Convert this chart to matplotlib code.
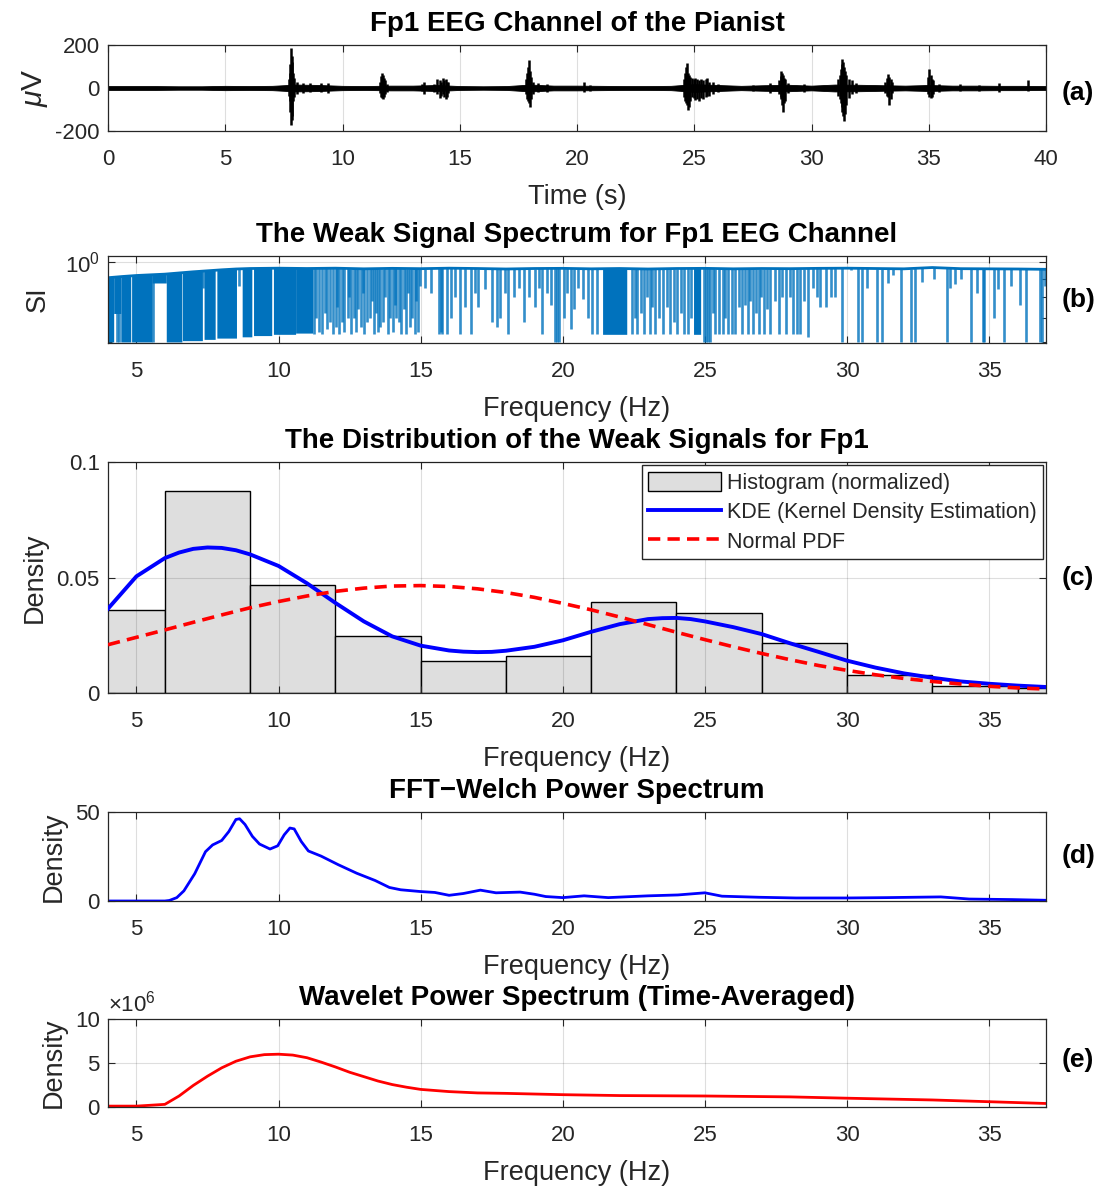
import numpy as np
import matplotlib
matplotlib.use("Agg")
import matplotlib.pyplot as plt
from matplotlib.ticker import FixedLocator, NullFormatter, LogFormatterSciNotation
from matplotlib.patches import Patch
from matplotlib.lines import Line2D

plt.rcParams['font.family'] = ['Liberation Sans', 'DejaVu Sans']
plt.rcParams['mathtext.fontset'] = 'custom'
plt.rcParams['mathtext.rm'] = 'Liberation Sans'
plt.rcParams['mathtext.it'] = 'Liberation Sans:italic'
plt.rcParams['axes.unicode_minus'] = False

# ---------------- (a) EEG trace: background noise envelope + burst spikes ----------------
eeg_bg_t = list(range(0, 41))
eeg_bg_amp = [9, 9, 9, 8, 8, 10, 9, 10, 16, 14, 10, 9, 11, 11, 14, 9, 8, 9, 16, 11,
              11, 10, 9, 9, 10, 18, 14, 10, 13, 15, 11, 16, 15, 13, 11, 14, 11, 11, 10, 10, 9]
spike_t = [7.70, 7.74, 7.77, 7.80, 7.83, 7.86, 7.90, 7.95, 8.05, 8.30, 8.60, 9.10, 9.40,
           11.60, 11.64, 11.68, 11.72, 11.76, 11.80, 11.90,
           13.40, 13.48, 13.90,
           14.05, 14.15, 14.22, 14.28, 14.34, 14.40, 14.46, 14.52,
           17.82, 17.88, 17.92, 17.96, 18.00, 18.05, 18.12, 18.35, 18.70,
           20.28, 20.55,
           24.55, 24.60, 24.64, 24.68, 24.72, 24.76, 24.82, 24.90, 25.00, 25.05, 25.12, 25.20, 25.30,
           25.38, 25.48, 25.55, 25.65, 25.80, 26.00,
           27.50, 28.25,
           28.62, 28.68, 28.72, 28.76, 28.80, 28.84, 28.88, 29.00, 29.70,
           31.15, 31.20, 31.25, 31.29, 31.32, 31.36, 31.40, 31.44, 31.48, 31.58, 31.72, 31.90,
           33.15, 33.22, 33.27, 33.32, 33.38, 33.45,
           34.95, 35.02, 35.08, 35.13, 35.18, 35.45,
           36.35, 37.15, 38.00, 39.25]
spike_up = [40, 70, 110, 185, 150, 120, 70, 45, 30, 25, 25, 22, 22,
            30, 55, 72, 60, 45, 35, 20,
            20, 30, 20,
            40, 35, 30, 46, 35, 40, 30, 30,
            40, 70, 100, 130, 80, 50, 30, 25, 18,
            30, 15,
            40, 70, 100, 115, 70, 60, 50, 45, 40, 45, 40, 35, 40,
            35, 40, 45, 30, 30, 20,
            14, 25,
            35, 55, 80, 70, 60, 45, 40, 25, 20,
            40, 60, 90, 110, 135, 120, 100, 80, 60, 40, 35, 25,
            30, 45, 65, 50, 40, 30,
            50, 90, 60, 40, 35, 20,
            20, 15, 22, 35]
spike_dn = [-35, -60, -110, -170, -150, -130, -60, -40, -30, -22, -20, -20, -22,
            -25, -40, -45, -50, -40, -30, -18,
            -15, -28, -20,
            -30, -45, -35, -30, -40, -50, -40, -25,
            -30, -50, -60, -70, -88, -50, -30, -20, -18,
            -20, -15,
            -40, -60, -70, -80, -100, -90, -60, -40, -45, -55, -50, -60, -45,
            -50, -40, -35, -35, -30, -20,
            -14, -22,
            -30, -40, -50, -80, -110, -70, -60, -25, -18,
            -35, -50, -70, -90, -110, -130, -155, -120, -80, -45, -30, -22,
            -25, -35, -40, -80, -50, -25,
            -30, -40, -45, -40, -30, -20,
            -15, -15, -18, -15]

# ---------------- (b) weak signal spectrum ----------------
si_top_f = [4, 4.5, 5, 5.5, 6, 6.5, 7, 7.5, 8, 8.5, 9, 10, 11, 12, 13, 14, 15, 16, 17, 18, 19, 20,
            21, 22, 23, 24, 25, 26, 27, 28, 29, 30, 31, 32, 33, 34, 35, 36, 37]
si_top_v = [0.905, 0.912, 0.918, 0.922, 0.926, 0.933, 0.94, 0.946, 0.952, 0.957, 0.96, 0.962, 0.96,
            0.962, 0.958, 0.961, 0.959, 0.962, 0.96, 0.957, 0.96, 0.961, 0.958, 0.96, 0.957, 0.96,
            0.961, 0.958, 0.96, 0.959, 0.961, 0.962, 0.96, 0.958, 0.966, 0.959, 0.958, 0.957, 0.955]
si_dense_f0 = [4.00, 4.20, 4.45, 4.83, 5.55, 6.05, 6.62, 7.38, 7.83, 8.72, 9.12, 9.82, 10.60, 21.40, 24.60]
si_dense_f1 = [4.20, 4.45, 4.80, 5.55, 6.05, 6.60, 7.32, 7.77, 8.52, 9.06, 9.76, 10.60, 11.20, 22.25, 24.85]
si_dense_lo = [0.60, 0.72, 0.60, 0.60, 0.875, 0.60, 0.605, 0.61, 0.615, 0.62, 0.625, 0.63, 0.635, 0.63, 0.63]
si_dip_f = [4.30, 4.38, 5.58, 7.35, 8.60,
            11.25, 11.33, 11.43, 11.54, 11.63, 11.72, 11.81, 11.90, 12.02, 12.07, 12.13, 12.22, 12.31,
            12.43, 12.49, 12.55, 12.64, 12.72, 12.81, 12.90, 12.96, 13.02, 13.11, 13.20, 13.28, 13.37,
            13.43, 13.49, 13.58, 13.67, 13.76, 13.84, 13.93, 14.02, 14.08, 14.14, 14.23, 14.32, 14.40,
            14.49, 14.55, 14.61, 14.70, 14.79, 14.85, 14.91, 14.97,
            15.14, 15.35, 15.64, 15.70, 15.75, 15.91, 16.08, 16.22, 16.38, 16.56, 16.77, 16.90, 17.03,
            17.25, 17.50, 17.68, 17.80, 17.95, 18.09, 18.27, 18.45, 18.62, 18.80, 19.03, 19.15, 19.27,
            19.45, 19.60, 19.74, 19.80, 19.86,
            20.04, 20.15, 20.30, 20.38, 20.55, 20.70, 20.90, 21.02, 21.21,
            22.43, 22.55, 22.62, 22.75, 22.87, 22.97, 23.06, 23.15, 23.26, 23.40, 23.51, 23.65, 23.77,
            23.90, 24.02, 24.15, 24.28, 24.40, 24.50,
            24.98, 25.05, 25.12, 25.17, 25.27, 25.36, 25.49, 25.62, 25.72, 25.81, 25.94, 26.06, 26.20,
            26.32, 26.42, 26.51, 26.60, 26.70, 26.80, 26.89, 26.99, 27.09, 27.18, 27.28, 27.45, 27.60,
            27.72, 27.85, 28.00, 28.11, 28.23, 28.36, 28.50, 28.62, 28.80, 28.95, 29.06, 29.26, 29.45,
            29.57, 29.83,
            30.15, 30.40, 30.53, 30.72, 31.04, 31.23, 31.43, 31.60, 31.90,
            32.25, 32.40, 32.65, 33.06, 33.50, 33.64, 33.80, 34.00, 34.35, 34.56, 34.78, 34.83, 35.18,
            35.30, 35.53, 35.76, 36.10, 36.30, 36.80, 36.87, 36.95]
si_dip_lo = [0.60, 0.60, 0.60, 0.85, 0.86,
             0.63, 0.70, 0.64, 0.63, 0.72, 0.65, 0.68, 0.63, 0.66, 0.75, 0.63, 0.68, 0.64,
             0.70, 0.80, 0.63, 0.70, 0.64, 0.74, 0.66, 0.82, 0.63, 0.68, 0.70, 0.78, 0.63,
             0.72, 0.64, 0.66, 0.68, 0.80, 0.63, 0.70, 0.64, 0.76, 0.70, 0.68, 0.63, 0.74,
             0.63, 0.82, 0.66, 0.70, 0.63, 0.78, 0.64, 0.86,
             0.845, 0.82, 0.63, 0.64, 0.63, 0.63, 0.70, 0.80, 0.63, 0.75, 0.63, 0.82, 0.75,
             0.84, 0.68, 0.66, 0.70, 0.82, 0.63, 0.80, 0.85, 0.68, 0.80, 0.75, 0.85, 0.63,
             0.82, 0.76, 0.60, 0.60, 0.60,
             0.70, 0.82, 0.65, 0.74, 0.85, 0.79, 0.70, 0.63, 0.63,
             0.63, 0.70, 0.63, 0.72, 0.63, 0.80, 0.63, 0.75, 0.63, 0.70, 0.63, 0.75, 0.63,
             0.68, 0.63, 0.72, 0.63, 0.63, 0.70,
             0.60, 0.60, 0.60, 0.60, 0.72, 0.63, 0.63, 0.63, 0.70, 0.63, 0.63, 0.63, 0.75,
             0.63, 0.76, 0.63, 0.78, 0.63, 0.72, 0.63, 0.80, 0.63, 0.74, 0.63, 0.78, 0.63,
             0.80, 0.63, 0.80, 0.63, 0.63, 0.63, 0.78, 0.62, 0.85, 0.80, 0.75, 0.75, 0.80,
             0.80, 0.60,
             0.95, 0.60, 0.60, 0.85, 0.60, 0.60, 0.875, 0.92, 0.60,
             0.60, 0.60, 0.88, 0.90, 0.60, 0.85, 0.87, 0.90, 0.60, 0.82, 0.60, 0.60, 0.70,
             0.84, 0.60, 0.86, 0.76, 0.60, 0.60, 0.60, 0.86]

# ---------------- (c) distribution ----------------
hist_left = [3, 6, 9, 12, 15, 18, 21, 24, 27, 30, 33, 36]
hist_height = [0.036, 0.0875, 0.0468, 0.0245, 0.0137, 0.0161, 0.0392, 0.0346, 0.0216, 0.0076, 0.0030, 0.0022]
kde_f = [4, 5, 6, 6.5, 7, 7.5, 8, 8.5, 9, 10, 11, 12, 13, 14, 15, 16, 16.5, 17, 17.5, 18, 19, 20, 21,
         22, 23, 23.5, 24, 24.5, 25, 26, 27, 28, 29, 30, 31, 32, 33, 34, 35, 36, 37]
kde_v = [0.0365, 0.0505, 0.0584, 0.0608, 0.0624, 0.0630, 0.0628, 0.0618, 0.0600, 0.0550, 0.0475,
         0.0390, 0.0310, 0.0245, 0.0205, 0.0184, 0.0179, 0.0177, 0.0178, 0.0183, 0.0200, 0.0228,
         0.0265, 0.0298, 0.0320, 0.0324, 0.0325, 0.0320, 0.0310, 0.0285, 0.0255, 0.0215, 0.0178,
         0.0140, 0.0110, 0.0085, 0.0066, 0.0050, 0.0040, 0.0032, 0.0026]
npdf_f = list(range(4, 38))
npdf_v = [0.0209, 0.0241, 0.0273, 0.0306, 0.0338, 0.0369, 0.0396, 0.0420, 0.0440, 0.0454, 0.0463,
          0.0465, 0.0461, 0.0451, 0.0435, 0.0414, 0.0388, 0.0360, 0.0329, 0.0296, 0.0263, 0.0231,
          0.0200, 0.0171, 0.0144, 0.0119, 0.0098, 0.0079, 0.0063, 0.0050, 0.0039, 0.0029, 0.0022, 0.0017]

# ---------------- (d) FFT-Welch ----------------
welch_f = [4, 5, 6, 6.16, 6.42, 6.67, 7.05, 7.43, 7.68, 8.0, 8.25, 8.5, 8.63, 8.82, 9.08, 9.33, 9.7,
           9.97, 10.2, 10.4, 10.55, 10.8, 11.05, 11.5, 12.1, 12.75, 13.4, 13.9, 14.3, 15.0, 15.5,
           16.0, 16.5, 17.1, 17.65, 18.5, 19.0, 19.4, 20.0, 20.75, 21.6, 23.0, 24.05, 25.0, 25.6,
           26.9, 28.2, 30.0, 31.4, 33.3, 34.3, 35.8, 37.0]
welch_v = [0, 0, 0, 0.3, 1.9, 5.7, 15.3, 27.7, 31.5, 34.0, 39.0, 45.8, 46.2, 43.0, 36.3, 32.0, 29.2,
           31.0, 37.2, 41.0, 40.5, 33.4, 28.1, 25.2, 20.4, 15.6, 11.5, 7.6, 6.3, 5.3, 4.8,
           3.2, 4.2, 6.1, 4.6, 5.0, 3.8, 2.5, 1.9, 2.9, 1.9, 2.9, 3.4, 4.6, 2.7,
           2.1, 1.7, 1.7, 1.9, 2.3, 1.1, 0.8, 0.4]

# ---------------- (e) Wavelet (values in units of 10^6) ----------------
wav_f = [4, 5, 5.5, 6, 6.5, 7, 7.5, 8, 8.5, 9, 9.5, 10, 10.5, 11, 11.5, 12, 12.5, 13, 13.5, 14,
         14.5, 15, 16, 17, 18, 20, 22, 25, 28, 30, 33, 35, 37]
wav_v = [0.1, 0.1, 0.2, 0.3, 1.25, 2.45, 3.5, 4.45, 5.2, 5.7, 5.95, 6.0, 5.9, 5.6, 5.1, 4.55, 3.95,
         3.45, 2.95, 2.55, 2.25, 2.0, 1.75, 1.6, 1.55, 1.4, 1.3, 1.25, 1.15, 1.0, 0.8, 0.6, 0.4]

# ---------------- figure ----------------
W, H = 1108, 1189
fig = plt.figure(figsize=(W / 100, H / 100), dpi=100)

GRAY = '#262626'
TICK_FS = 16
LAB_FS = 19.5
TITLE_FS = 20
PANEL_FS = 19
XPAD = 13
XLABPAD = 10
TPAD = 10


def make_ax(top, bottom):
    left, right = 108, 1046
    return fig.add_axes([left / W, 1 - bottom / H, (right - left) / W, (bottom - top) / H])


def style(ax, grid_below=True):
    ax.tick_params(which='both', direction='in', top=True, right=True, colors=GRAY,
                   labelsize=TICK_FS, width=0.8)
    ax.tick_params(which='major', length=5)
    ax.tick_params(which='minor', length=3)
    ax.tick_params(axis='x', pad=XPAD)
    ax.tick_params(axis='y', pad=6)
    for s in ax.spines.values():
        s.set_color(GRAY)
        s.set_linewidth(0.9)
    ax.grid(True, which='major', color='k', alpha=0.13, lw=0.8)
    ax.set_axisbelow(grid_below)


def panel_label(yc, txt):
    fig.text(1062 / W, 1 - yc / H, txt, ha='left', va='center', fontsize=PANEL_FS,
             fontweight='bold', color='k')


# (a)
ax = make_ax(45, 131)
style(ax)
ax.fill_between(eeg_bg_t, [-a for a in eeg_bg_amp], eeg_bg_amp, color='k', lw=0.6)
ax.vlines(spike_t, spike_dn, spike_up, color='k', lw=1.8)
ax.set_xlim(0, 40)
ax.set_ylim(-200, 200)
ax.set_xticks(range(0, 41, 5))
ax.set_yticks([-200, 0, 200])
ax.set_title('Fp1 EEG Channel of the Pianist', fontsize=TITLE_FS, fontweight='bold', pad=TPAD)
ax.set_xlabel('Time (s)', fontsize=LAB_FS, color=GRAY, labelpad=XLABPAD)
ax.set_ylabel(r'$\mu$V', fontsize=LAB_FS + 2, color=GRAY, labelpad=4)
panel_label(93, '(a)')

# (b)
ax = make_ax(256, 343)
style(ax)
BLUE = '#0072BD'
ax.set_yscale('log')
for f0, f1, lo in zip(si_dense_f0, si_dense_f1, si_dense_lo):
    ax.fill_between([f0, f1], [lo, lo], [np.interp(f0, si_top_f, si_top_v), np.interp(f1, si_top_f, si_top_v)],
                    color=BLUE, lw=0)
ax.vlines(si_dip_f, si_dip_lo, np.interp(si_dip_f, si_top_f, si_top_v), color=BLUE, lw=1.9, alpha=0.8)
ax.plot(si_top_f, si_top_v, color=BLUE, lw=2.0)
ax.set_xlim(4, 37)
ax.set_ylim(0.596, 1.04)
ax.yaxis.set_major_locator(FixedLocator([1.0]))
ax.yaxis.set_major_formatter(LogFormatterSciNotation())
ax.yaxis.set_minor_locator(FixedLocator([0.6, 0.7, 0.8, 0.9]))
ax.yaxis.set_minor_formatter(NullFormatter())
ax.set_xticks(range(5, 36, 5))
ax.set_title('The Weak Signal Spectrum for Fp1 EEG Channel', fontsize=TITLE_FS, fontweight='bold', pad=TPAD)
ax.set_xlabel('Frequency (Hz)', fontsize=LAB_FS, color=GRAY, labelpad=XLABPAD)
ax.set_ylabel('SI', fontsize=LAB_FS, color=GRAY, labelpad=10)
panel_label(300, '(b)')

# (c)
ax = make_ax(462, 693)
style(ax, grid_below=False)
ax.bar(hist_left, hist_height, width=3, align='edge', color='#DEDEDE', edgecolor='k', lw=1.0, zorder=1)
ax.plot(kde_f, kde_v, color='#0000FF', lw=2.8, zorder=3)
ax.plot(npdf_f, npdf_v, color='#FF0000', lw=2.6, ls=(0, (3.4, 2.0)), zorder=3)
ax.set_xlim(4, 37)
ax.set_ylim(0, 0.1)
ax.set_xticks(range(5, 36, 5))
ax.set_yticks([0, 0.05, 0.1])
ax.set_yticklabels(['0', '0.05', '0.1'])
ax.set_title('The Distribution of the Weak Signals for Fp1', fontsize=TITLE_FS, fontweight='bold', pad=TPAD)
ax.set_xlabel('Frequency (Hz)', fontsize=LAB_FS, color=GRAY, labelpad=XLABPAD)
ax.set_ylabel('Density', fontsize=LAB_FS, color=GRAY, labelpad=6)
handles = [Patch(facecolor='#DEDEDE', edgecolor='k', lw=1.0),
           Line2D([], [], color='#0000FF', lw=2.8),
           Line2D([], [], color='#FF0000', lw=2.6, ls=(0, (3.4, 2.0)))]
leg = ax.legend(handles, ['Histogram (normalized)', 'KDE (Kernel Density Estimation)', 'Normal PDF'],
                loc='upper right', bbox_to_anchor=(1.0, 1.0), borderaxespad=0.15, fontsize=15.5,
                handlelength=3.4, handleheight=1.0, handletextpad=0.25, labelspacing=0.35,
                borderpad=0.3, fancybox=False, framealpha=1, edgecolor=GRAY)
leg.get_frame().set_linewidth(1.0)
for t in leg.get_texts():
    t.set_color(GRAY)
panel_label(578, '(c)')

# (d)
ax = make_ax(812, 901)
style(ax)
ax.plot(welch_f, welch_v, color='#0000FF', lw=2.0)
ax.set_xlim(4, 37)
ax.set_ylim(0, 50)
ax.set_xticks(range(5, 36, 5))
ax.set_yticks([0, 50])
ax.set_title('FFT\u2212Welch Power Spectrum', fontsize=TITLE_FS, fontweight='bold', pad=TPAD)
ax.set_xlabel('Frequency (Hz)', fontsize=LAB_FS, color=GRAY, labelpad=XLABPAD)
ax.set_ylabel('Density', fontsize=LAB_FS, color=GRAY, labelpad=6)
panel_label(856, '(d)')

# (e)
ax = make_ax(1019, 1107)
style(ax)
ax.plot(wav_f, wav_v, color='#FF0000', lw=2.0)
ax.set_xlim(4, 37)
ax.set_ylim(0, 10)
ax.set_xticks(range(5, 36, 5))
ax.set_yticks([0, 5, 10])
ax.text(0.0, 1.03, r'$\times\mathregular{10^{6}}$', transform=ax.transAxes, ha='left', va='bottom',
        fontsize=16, color=GRAY)
ax.set_title('Wavelet Power Spectrum (Time-Averaged)', fontsize=TITLE_FS, fontweight='bold', pad=TPAD)
ax.set_xlabel('Frequency (Hz)', fontsize=LAB_FS, color=GRAY, labelpad=XLABPAD)
ax.set_ylabel('Density', fontsize=LAB_FS, color=GRAY, labelpad=6)
panel_label(1060, '(e)')

fig.savefig('out.png', dpi=100)
